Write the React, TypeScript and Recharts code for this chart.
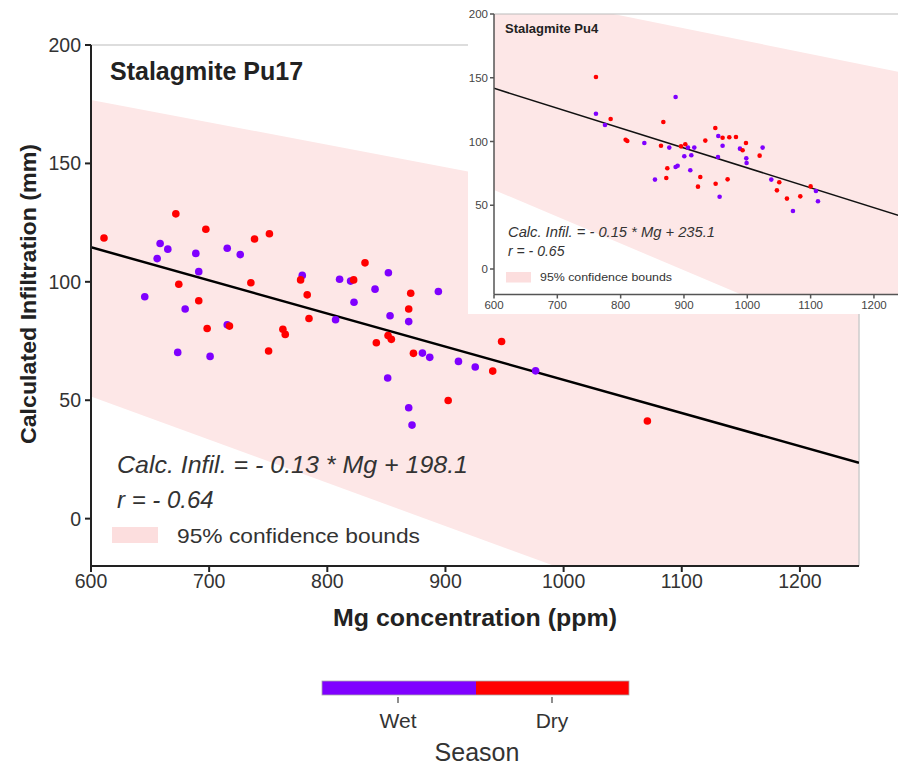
import React from "react";
import { Area, ComposedChart, Line, ReferenceLine, Scatter, XAxis, YAxis } from "recharts";

// ---- data ----
const xTicks = [600, 700, 800, 900, 1000, 1100, 1200];
const yTicks = [0, 50, 100, 150, 200];
const seasons = ["Wet", "Dry"];

// Stalagmite Pu17 (main)
const pu17WetMg = [656, 658.5, 665, 688.7, 715.3, 726.3, 691.2, 645.5, 679.7, 715.3, 673.4, 700.8, 778.8, 810.4, 819.7, 851.7, 840.4, 822.6, 894, 807, 853.1, 868.9, 880.5, 886.7, 911, 925.2, 851.1, 868.9, 871.7, 976.3];
const pu17WetInf = [109.8, 116.2, 113.8, 112, 114.2, 111.5, 104.3, 93.7, 88.5, 81.9, 70.2, 68.5, 102.7, 101.1, 100.3, 103.8, 96.9, 91.4, 95.9, 84, 85.7, 83.2, 69.9, 68.1, 66.4, 64, 59.4, 46.8, 39.5, 62.4];
const pu17DryMg = [611, 671.8, 697.2, 738.4, 751, 674.3, 735.3, 691.2, 698.3, 717.2, 762.4, 764.4, 750.3, 777.4, 783, 784.5, 822.3, 831.9, 870.6, 868.9, 851.4, 854.2, 841.5, 872.9, 902.3, 947.5, 940, 1070.9];
const pu17DryInf = [118.5, 128.7, 122.2, 118.1, 120.3, 99, 99.6, 92, 80.3, 81.3, 80, 77.8, 70.8, 100.8, 94.5, 84.5, 100.8, 108, 95.2, 88.5, 77.3, 75.7, 74.3, 69.8, 49.9, 74.8, 62.3, 41.2];
const lineMg = [600, 1250];
const pu17Fit = [114.6, 23.6];
const pu17Low = [51.6, -67];
const pu17High = [176.8, 115.3];

// Stalagmite Pu4 (inset)
const pu4WetMg = [761, 775.3, 837.4, 876.8, 886.8, 854.2, 886.8, 890, 906.3, 900.5, 916.3, 911.6, 910, 954.2, 953.7, 956.3, 961, 988.4, 998.4, 998.9, 1024.2, 1037.9, 1072.1, 1108.4, 1111.6];
const pu4WetInf = [121.8, 112.9, 98.8, 95.2, 134.9, 70.1, 80, 81, 95.2, 88.4, 95.2, 89.2, 77.4, 104.3, 87.8, 56.7, 96.7, 94.4, 86.8, 83.1, 95.2, 70.1, 45.5, 61.2, 53.1];
const pu4DryMg = [761, 784.2, 807.9, 810.5, 867.4, 863.7, 873.7, 872.1, 895.3, 902.1, 925.8, 922.1, 933.7, 949.5, 950, 961, 971.6, 982.1, 968.9, 992.6, 997.9, 1019.5, 1050.5, 1046.8, 1062.6, 1083.7, 1100];
const pu4DryInf = [150.6, 117.6, 101.4, 100.4, 115.3, 96.7, 79, 71.4, 96.2, 97.8, 72.2, 64.6, 100.7, 110.6, 66.9, 103, 103.3, 103.5, 70.3, 93.1, 98.8, 88.9, 68, 61.7, 55.2, 57, 64.8];
const pu4Fit = [141.7, 40.3];
const pu4Low = [62, -74.5];
const pu4High = [219, 153.5];

const pts = (xs: number[], ys: number[]) => xs.map((x, i) => ({ x, y: ys[i] }));
const band = (lo: number[], hi: number[]) => lineMg.map((x, i) => ({ x, band: [lo[i], hi[i]] }));

const WET = "#7f00ff";
const DRY = "#ff0000";
const PINK = "#fde7e7";
const FONT = "'Liberation Sans', Arial, sans-serif";

const dot = (fill: string, r: number) => (p: any) => <circle cx={p.cx} cy={p.cy} r={r} fill={fill} />;

const App = () => {
    return (
        <div style={{ position: "absolute", left: 0, top: 0, width: 898, height: 766, overflow: "hidden", background: "#fff", fontFamily: FONT }}>
            {/* main chart */}
            <div style={{ position: "absolute", left: 0, top: 0 }}>
                <ComposedChart width={870} height={600} margin={{ top: 45, right: 11, left: 41, bottom: 4 }}>
                    <XAxis type="number" dataKey="x" domain={[600, 1250]} ticks={xTicks} allowDataOverflow height={30}
                        stroke="#222" strokeWidth={2} tickSize={6} tickMargin={2} tick={{ fill: "#333", fontSize: 19.5, fontFamily: FONT }} />
                    <YAxis type="number" domain={[-20, 200]} ticks={yTicks} allowDataOverflow width={50}
                        stroke="#222" strokeWidth={2} tickSize={6} tickMargin={4} tick={{ fill: "#333", fontSize: 19.5, fontFamily: FONT }} />
                    <Area data={band(pu17Low, pu17High)} dataKey="band" type="linear" stroke="none" fill={PINK} fillOpacity={1} isAnimationActive={false} />
                    <ReferenceLine y={200} stroke="#bbb" strokeWidth={1} />
                    <ReferenceLine x={1250} stroke="#ccc" strokeWidth={1.5} />
                    <Line data={pts(lineMg, pu17Fit)} dataKey="y" type="linear" stroke="#000" strokeWidth={2.5} dot={false} isAnimationActive={false} />
                    <Scatter data={pts(pu17WetMg, pu17WetInf)} dataKey="y" shape={dot(WET, 3.8)} isAnimationActive={false} />
                    <Scatter data={pts(pu17DryMg, pu17DryInf)} dataKey="y" shape={dot(DRY, 3.8)} isAnimationActive={false} />
                </ComposedChart>
            </div>

            {/* main annotations, axis titles and season colour bar */}
            <svg width={898} height={766} style={{ position: "absolute", left: 0, top: 0, pointerEvents: "none" }} fontFamily={FONT}>
                <text x={110} y={80} fontSize={25} fontWeight="bold" fill="#222">Stalagmite Pu17</text>
                <text x={117} y={473} fontSize={24} fontStyle="italic" fill="#333" textLength={351} lengthAdjust="spacingAndGlyphs">Calc. Infil. = - 0.13 * Mg + 198.1</text>
                <text x={117} y={508} fontSize={24} fontStyle="italic" fill="#333">r = - 0.64</text>
                <rect x={112} y={527} width={46} height={16} fill="#fcdede" />
                <text x={177} y={543} fontSize={21} fill="#333" textLength={243} lengthAdjust="spacingAndGlyphs">95% confidence bounds</text>

                <text x={475} y={626} fontSize={23} fontWeight="bold" fill="#222" textAnchor="middle" textLength={284} lengthAdjust="spacingAndGlyphs">
                    Mg concentration (ppm)
                </text>
                <text x={36} y={294} fontSize={22} fontWeight="bold" fill="#222" textAnchor="middle" transform="rotate(-90 36 294)"
                    textLength={300} lengthAdjust="spacingAndGlyphs">
                    Calculated Infiltration (mm)
                </text>

                <rect x={322} y={681} width={154} height={14} fill={WET} />
                <rect x={476} y={681} width={153} height={14} fill={DRY} />
                <rect x={322} y={681} width={307} height={14} fill="none" stroke="#aaa" strokeWidth={0.8} />
                {seasons.map((s, i) => (
                    <g key={s}>
                        <line x1={398 + i * 154} x2={398 + i * 154} y1={697} y2={703} stroke="#444" strokeWidth={1.2} />
                        <text x={398 + i * 154} y={728} fontSize={21} fill="#333" textAnchor="middle">{s}</text>
                    </g>
                ))}
                <text x={477} y={761} fontSize={25} fill="#333" textAnchor="middle">Season</text>
            </svg>

            {/* inset: Pu4 */}
            <div style={{ position: "absolute", left: 468, top: 0, width: 430, height: 314, background: "#fff", overflow: "hidden" }}>
                <ComposedChart width={440} height={315} margin={{ top: 14, right: 2.4, left: 0, bottom: 0 }}>
                    <XAxis type="number" dataKey="x" domain={[600, 1250]} ticks={xTicks} allowDataOverflow height={20.5}
                        stroke="#555" strokeWidth={1.5} tickSize={4} tickMargin={2} tick={{ fill: "#444", fontSize: 11.5, fontFamily: FONT }} />
                    <YAxis type="number" domain={[-20, 200]} ticks={yTicks} allowDataOverflow width={26}
                        stroke="#555" strokeWidth={1.5} tickSize={4} tickMargin={2} tick={{ fill: "#444", fontSize: 11.5, fontFamily: FONT }} />
                    <Area data={band(pu4Low, pu4High)} dataKey="band" type="linear" stroke="none" fill={PINK} fillOpacity={1} isAnimationActive={false} />
                    <ReferenceLine y={200} stroke="#bbb" strokeWidth={1} />
                    <Line data={pts(lineMg, pu4Fit)} dataKey="y" type="linear" stroke="#111" strokeWidth={1.5} dot={false} isAnimationActive={false} />
                    <Scatter data={pts(pu4WetMg, pu4WetInf)} dataKey="y" shape={dot(WET, 2.3)} isAnimationActive={false} />
                    <Scatter data={pts(pu4DryMg, pu4DryInf)} dataKey="y" shape={dot(DRY, 2.3)} isAnimationActive={false} />
                </ComposedChart>
                <svg width={430} height={314} style={{ position: "absolute", left: 0, top: 0, pointerEvents: "none" }} fontFamily={FONT}>
                    <text x={37} y={33} fontSize={13} fontWeight="bold" fill="#222">Stalagmite Pu4</text>
                    <text x={40} y={237} fontSize={14} fontStyle="italic" fill="#333" textLength={207} lengthAdjust="spacingAndGlyphs">Calc. Infil. = - 0.15 * Mg + 235.1</text>
                    <text x={40} y={256} fontSize={14} fontStyle="italic" fill="#333">r = - 0.65</text>
                    <rect x={38} y={272} width={25} height={10.5} fill="#fcdede" />
                    <text x={72} y={281} fontSize={11.4} fill="#333" textLength={132} lengthAdjust="spacingAndGlyphs">95% confidence bounds</text>
                </svg>
            </div>
        </div>
    );
};

export default App;
